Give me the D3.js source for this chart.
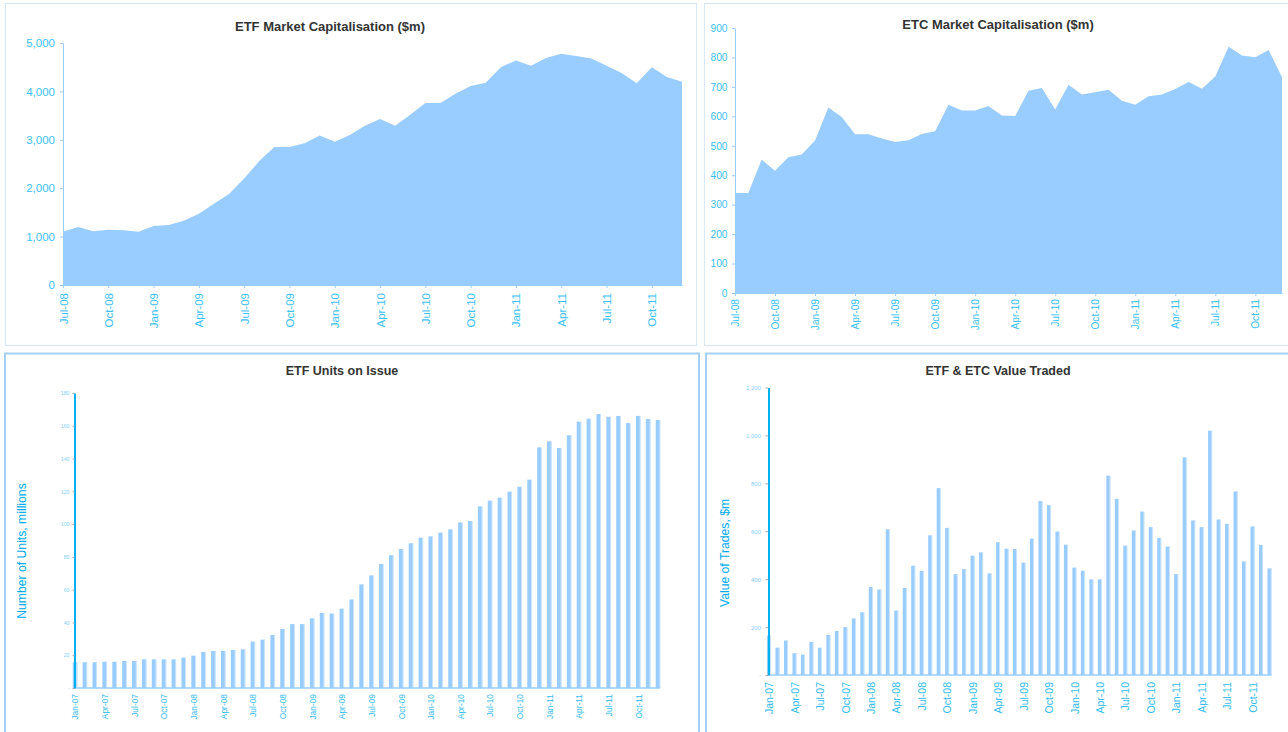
<!DOCTYPE html>
<head>
    <meta charset="utf-8">
    <style>
        body { margin: 0; background: #fff; font-family: "Liberation Sans", Arial, sans-serif; }
        .title { font-weight: bold; fill: #333; }
        .panel-top { fill: none; stroke: #d6e7f8; stroke-width: 1; }
        .panel-bottom { fill: none; stroke: #a6d0f7; stroke-width: 2; }
    </style>
</head>
<body>
    <div id="chart"></div>
    <script src="https://d3js.org/d3.v7.min.js"></script>
    <script>
        // month labels like "Jul-08"
        var monthNames = ["Jan","Feb","Mar","Apr","May","Jun","Jul","Aug","Sep","Oct","Nov","Dec"];
        function monthRange(year, month, n) {
            var out = [];
            for (var i = 0; i < n; i++) {
                var m = (month + i) % 12, yr = year + Math.floor((month + i) / 12);
                out.push(monthNames[m] + "-" + String(yr).slice(2));
            }
            return out;
        }

        // categories
        var capMonths = monthRange(2008, 6, 42);     // Jul-08 .. Dec-11
        var tradeMonths = monthRange(2007, 0, 60);   // Jan-07 .. Dec-11

        // tick labels
        var capTicks = ["Jul-08","Oct-08","Jan-09","Apr-09","Jul-09","Oct-09","Jan-10","Apr-10","Jul-10","Oct-10","Jan-11","Apr-11","Jul-11","Oct-11"];
        var tradeTicks = ["Jan-07","Apr-07","Jul-07","Oct-07","Jan-08","Apr-08","Jul-08","Oct-08","Jan-09","Apr-09","Jul-09","Oct-09","Jan-10","Apr-10","Jul-10","Oct-10","Jan-11","Apr-11","Jul-11","Oct-11"];
        var etfCapTicks = [0, 1000, 2000, 3000, 4000, 5000];
        var etcCapTicks = [0, 100, 200, 300, 400, 500, 600, 700, 800, 900];
        var unitsTicks = [0, 20, 40, 60, 80, 100, 120, 140, 160, 180];
        var tradedTicks = [0, 200, 400, 600, 800, 1000, 1200];

        // series values
        var etfCap = [1100,1200,1110,1140,1130,1100,
            1220,1240,1330,1470,1680,1880,2200,2560,2850,2850,2930,3090,
            2960,3100,3290,3430,3290,3520,3760,3760,3950,4110,4180,4500,
            4640,4530,4690,4780,4730,4680,4530,4380,4170,4500,4300,4200];
        var etcCap = [340,340,453,415,461,470,
            518,630,598,539,539,525,513,519,540,549,639,620,
            620,635,603,601,687,696,623,707,674,682,690,653,
            639,668,674,693,717,694,735,836,807,801,825,733];
        var etfUnits = [15.7,15.7,15.7,16,16,16.5,16.5,17.5,17.5,17.5,17.5,18.5,
            19.7,22,22.6,22.6,23.2,23.6,28.3,29.5,32.3,36,39,39,
            42.5,45.8,45.4,48.4,54,63.2,68.7,75.7,81,84.8,88.3,91.7,
            92.5,94.8,96.8,101,101.9,110.8,114.3,116.1,119.8,122.8,127.1,146.8,
            150.5,146.4,154.2,162.5,164.3,167.2,165.5,166,161.7,166,164.1,163.5];
        var valueTraded = [165,114,144,91,85,138,114,167,184,200,236,262,
            367,357,608,269,363,456,434,583,780,614,421,442,
            498,512,424,554,527,526,469,569,726,709,599,544,
            448,435,399,399,832,735,540,603,682,617,572,536,
            421,908,645,617,1020,649,631,766,474,620,543,445];

        var svg = d3.select("#chart").append("svg")
            .attr("width", 1288)
            .attr("height", 732);

        // panel frames
        svg.append("rect").attr("class", "panel-top").attr("x", 5.5).attr("y", 3.5).attr("width", 691).attr("height", 342);
        svg.append("rect").attr("class", "panel-top").attr("x", 704.5).attr("y", 3.5).attr("width", 600).attr("height", 342);
        svg.append("rect").attr("class", "panel-bottom").attr("x", 5).attr("y", 353.5).attr("width", 694).attr("height", 400);
        svg.append("rect").attr("class", "panel-bottom").attr("x", 706).attr("y", 353.5).attr("width", 600).attr("height", 400);

        function styleAxis(g, lineColor, textColor, fontSize) {
            g.select(".domain").attr("stroke", lineColor);
            g.selectAll(".tick line").attr("stroke", lineColor);
            g.selectAll("text").attr("fill", textColor)
                .attr("font-size", fontSize)
                .attr("font-family", "'Liberation Sans', Arial, sans-serif");
        }

        function rotateLabels(g, gap) {
            g.selectAll(".tick text")
                .attr("transform", "rotate(-90)")
                .attr("text-anchor", "end")
                .attr("x", -gap)
                .attr("y", 0)
                .attr("dy", "0.35em");
        }

        function areaChart(o) {
            var x = d3.scalePoint().domain(o.months).range([o.left, o.right]);
            var y = d3.scaleLinear().domain([0, o.max]).range([o.bottom, o.top]);

            svg.append("text").attr("class", "title")
                .attr("x", o.titleX).attr("y", o.titleY)
                .attr("text-anchor", "middle").attr("font-size", 13)
                .text(o.title);

            var area = d3.area()
                .x(function(d, i) { return x(o.months[i]); })
                .y0(y(0))
                .y1(function(d) { return y(d); });

            svg.append("path").datum(o.values)
                .attr("fill", "#99ccff")
                .attr("d", area);

            var xa = svg.append("g")
                .attr("transform", "translate(0," + o.bottom + ")")
                .call(d3.axisBottom(x).tickValues(o.ticks).tickSize(3).tickSizeOuter(0));
            styleAxis(xa, "#99ccff", "#3cc0f5", o.xFont);
            rotateLabels(xa, o.xGap);

            var ya = svg.append("g")
                .attr("transform", "translate(" + o.left + ",0)")
                .call(d3.axisLeft(y).tickValues(o.yTicks).tickSize(3).tickPadding(o.yPad)
                    .tickSizeOuter(0).tickFormat(d3.format(",")));
            styleAxis(ya, "#99ccff", "#3cc0f5", o.yFont);
        }

        function barChart(o) {
            var x = d3.scalePoint().domain(o.months).range([o.left + 0.5, o.right]);
            var y = d3.scaleLinear().domain([0, o.max]).range([o.bottom, o.top]);

            svg.append("text").attr("class", "title")
                .attr("x", o.titleX).attr("y", o.titleY)
                .attr("text-anchor", "middle").attr("font-size", 12.5)
                .text(o.title);

            svg.append("text")
                .attr("transform", "translate(" + o.labelX + "," + o.labelY + ") rotate(-90)")
                .attr("text-anchor", "middle")
                .attr("dy", "0.35em")
                .attr("fill", "#00aaee")
                .attr("font-size", 12.2)
                .text(o.yLabel);

            var bars = svg.append("g");
            bars.selectAll("rect.bar")
                .data(o.values)
                .enter().append("rect")
                .attr("class", "bar")
                .attr("x", function(d, i) { return x(o.months[i]) - o.barW / 2; })
                .attr("y", function(d) { return y(d); })
                .attr("width", o.barW)
                .attr("height", function(d) { return o.bottom - y(d); })
                .attr("fill", "#99ccff");
            // lighter edge on the right side of each bar
            bars.selectAll("rect.edge")
                .data(o.values)
                .enter().append("rect")
                .attr("class", "edge")
                .attr("x", function(d, i) { return x(o.months[i]) + o.barW / 2 - 0.8; })
                .attr("y", function(d) { return y(d); })
                .attr("width", 0.8)
                .attr("height", function(d) { return o.bottom - y(d); })
                .attr("fill", "#d4e9ff");

            var xa = svg.append("g")
                .attr("transform", "translate(0," + o.bottom + ")")
                .call(d3.axisBottom(x).tickValues(o.ticks).tickSize(0).tickSizeOuter(0));
            xa.select(".domain").attr("d", "M" + o.left + ",0H" + (o.right + 2));
            styleAxis(xa, "#99ccff", "#33bbee", o.xFont);
            xa.select(".domain").attr("stroke-width", 1.5);
            rotateLabels(xa, o.xGap);

            var ya = svg.append("g")
                .attr("transform", "translate(" + o.left + ",0)")
                .call(d3.axisLeft(y).tickValues(o.yTicks).tickSize(o.tickLen).tickPadding(o.yPad)
                    .tickSizeOuter(0)
                    .tickFormat(function(d) { return d === 0 ? "-" : d3.format(",")(d); }));
            styleAxis(ya, "#00b0f0", "#7fd0f5", o.yFont);
            ya.select(".domain").attr("stroke-width", 2);
            ya.selectAll(".tick line").attr("stroke", "#aaaaaa");
        }

        areaChart({
            months: capMonths, values: etfCap, ticks: capTicks, yTicks: etfCapTicks, max: 5000,
            left: 63, right: 682, top: 43, bottom: 285,
            title: "ETF Market Capitalisation ($m)", titleX: 330, titleY: 31,
            xFont: 11.5, yFont: 11.5, xGap: 8, yPad: 5
        });

        areaChart({
            months: capMonths, values: etcCap, ticks: capTicks, yTicks: etcCapTicks, max: 900,
            left: 735, right: 1282, top: 28, bottom: 293,
            title: "ETC Market Capitalisation ($m)", titleX: 998, titleY: 29,
            xFont: 10.2, yFont: 10.2, xGap: 6, yPad: 4.5
        });

        barChart({
            months: tradeMonths, values: etfUnits, ticks: tradeTicks, yTicks: unitsTicks, max: 180,
            left: 74.5, right: 658, top: 393, bottom: 688, barW: 4.5,
            title: "ETF Units on Issue", titleX: 342, titleY: 375,
            yLabel: "Number of Units, millions", labelX: 22, labelY: 551,
            xFont: 8.4, yFont: 5.2, xGap: 6, yPad: 3, tickLen: 2
        });

        barChart({
            months: tradeMonths, values: valueTraded, ticks: tradeTicks, yTicks: tradedTicks, max: 1200,
            left: 768.5, right: 1269.5, top: 387.5, bottom: 675, barW: 4,
            title: "ETF & ETC Value Traded", titleX: 998, titleY: 375,
            yLabel: "Value of Trades, $m", labelX: 725, labelY: 553,
            xFont: 10.5, yFont: 6, xGap: 7, yPad: 4.5, tickLen: 3
        });
    </script>
</body>
